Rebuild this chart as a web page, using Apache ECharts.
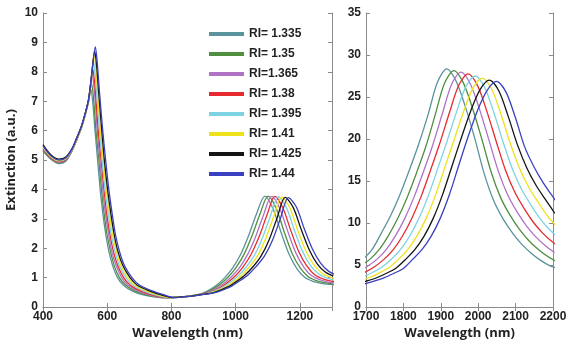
<!DOCTYPE html>
<html>
<head>
<meta charset="utf-8">
<script src="https://cdn.jsdelivr.net/npm/echarts@6/dist/echarts.min.js"></script>
<style>
  html, body { margin: 0; padding: 0; background: #fff; }
  #chart { width: 568px; height: 342px; }
</style>
</head>
<body>
<div id="chart"></div>
<script>
// legend labels and line colours, one per refractive index
const riNames = ["RI= 1.335", "RI= 1.35", "RI=1.365", "RI= 1.38", "RI= 1.395", "RI= 1.41", "RI= 1.425", "RI= 1.44"]
const riColors = ["#5a939c", "#4f8f3f", "#b072c4", "#e52b2f", "#7dd3e3", "#f0e21a", "#141414", "#3b40c0"]

// left panel: [wavelength nm, extinction]
const vis1335 = [[400,5.30],[425,5.02],[450,4.88],[470,4.95],[490,5.30],[505,5.68],[520,6.10],[532,6.55],[542,7.00],[549,7.40],[555,6.95],[562,6.00],[570,5.00],[578,4.00],[586,3.20],[595,2.50],[605,1.90],[617,1.40],[632,1.00],[650,0.75],[677,0.55],[715,0.40],[765,0.32],[791,0.31],[816,0.33],[841,0.35],[866,0.39],[891,0.45],[916,0.57],[941,0.75],[966,1.00],[991,1.33],[1016,1.80],[1041,2.45],[1066,3.20],[1091,3.77],[1116,3.35],[1141,2.55],[1166,1.80],[1191,1.30],[1216,1.00],[1241,0.87],[1266,0.80],[1291,0.77],[1316,0.76]]
const vis1350 = [[400,5.33],[425,5.04],[450,4.90],[470,4.97],[490,5.31],[505,5.69],[520,6.11],[532,6.56],[542,7.00],[551,7.60],[557,7.15],[565,6.00],[574,5.00],[582,4.00],[590,3.20],[599,2.50],[610,1.90],[622,1.40],[638,1.00],[657,0.75],[686,0.55],[724,0.40],[771,0.32],[801,0.32],[826,0.34],[851,0.36],[876,0.41],[901,0.47],[926,0.59],[951,0.77],[976,1.01],[1001,1.34],[1026,1.79],[1051,2.42],[1076,3.17],[1101,3.77],[1126,3.36],[1151,2.56],[1176,1.82],[1201,1.33],[1226,1.03],[1251,0.90],[1276,0.83],[1301,0.79]]
const vis1365 = [[400,5.36],[425,5.06],[450,4.92],[470,4.99],[490,5.32],[505,5.70],[520,6.12],[532,6.57],[542,7.02],[548,7.50],[553,7.95],[559,7.45],[564,6.80],[569,6.00],[577,5.00],[586,4.00],[594,3.20],[604,2.50],[614,1.90],[628,1.40],[645,1.00],[664,0.75],[695,0.55],[734,0.40],[778,0.32],[812,0.33],[837,0.35],[862,0.38],[887,0.42],[912,0.49],[937,0.61],[962,0.79],[987,1.03],[1012,1.34],[1037,1.78],[1062,2.39],[1087,3.14],[1112,3.76],[1137,3.36],[1162,2.58],[1187,1.85],[1212,1.36],[1237,1.06],[1262,0.93],[1287,0.85],[1312,0.81]]
const vis1380 = [[400,5.39],[425,5.08],[450,4.94],[470,5.01],[490,5.33],[505,5.71],[520,6.13],[532,6.58],[542,7.03],[549,7.60],[555,8.10],[561,7.60],[566,6.90],[572,6.00],[581,5.00],[590,4.00],[598,3.20],[608,2.50],[619,1.90],[633,1.40],[651,1.00],[671,0.75],[704,0.55],[743,0.40],[784,0.32],[822,0.34],[847,0.36],[872,0.39],[897,0.44],[922,0.51],[947,0.63],[972,0.81],[997,1.04],[1022,1.35],[1047,1.77],[1072,2.36],[1097,3.11],[1122,3.76],[1147,3.37],[1172,2.59],[1197,1.87],[1222,1.39],[1247,1.09],[1272,0.96],[1297,0.88],[1322,0.84]]
const vis1395 = [[400,5.42],[425,5.10],[450,4.96],[470,5.03],[490,5.34],[505,5.72],[520,6.14],[532,6.59],[542,7.04],[550,7.70],[557,8.35],[563,7.85],[569,7.00],[576,6.00],[584,5.00],[593,4.00],[603,3.20],[612,2.50],[624,1.90],[638,1.40],[658,1.00],[679,0.75],[713,0.55],[752,0.40],[791,0.32],[833,0.34],[858,0.38],[883,0.41],[908,0.45],[933,0.54],[958,0.66],[983,0.84],[1008,1.06],[1033,1.36],[1058,1.75],[1083,2.34],[1108,3.09],[1133,3.75],[1158,3.38],[1183,2.61],[1208,1.90],[1233,1.41],[1258,1.13],[1283,0.99],[1308,0.90]]
const vis1410 = [[400,5.45],[425,5.12],[450,4.98],[470,5.05],[490,5.35],[505,5.73],[520,6.15],[532,6.60],[542,7.05],[550,7.75],[559,8.55],[565,8.05],[571,7.10],[579,6.00],[588,5.00],[597,4.00],[607,3.20],[616,2.50],[629,1.90],[643,1.40],[664,1.00],[686,0.75],[722,0.55],[761,0.40],[797,0.32],[818,0.34],[843,0.35],[868,0.39],[893,0.42],[918,0.47],[943,0.56],[968,0.68],[993,0.86],[1018,1.07],[1043,1.37],[1068,1.74],[1093,2.31],[1118,3.06],[1143,3.74],[1168,3.39],[1193,2.62],[1218,1.92],[1243,1.44],[1268,1.16],[1293,1.02],[1318,0.93]]
const vis1425 = [[400,5.52],[425,5.17],[450,5.03],[470,5.09],[490,5.38],[505,5.75],[520,6.16],[532,6.61],[542,7.06],[551,7.85],[561,8.70],[567,8.20],[574,7.20],[583,6.00],[591,5.00],[601,4.00],[611,3.20],[621,2.50],[633,1.90],[649,1.40],[671,1.00],[693,0.75],[731,0.55],[771,0.40],[804,0.32],[829,0.34],[854,0.36],[879,0.40],[904,0.44],[929,0.48],[954,0.58],[979,0.70],[1004,0.88],[1029,1.09],[1054,1.37],[1079,1.73],[1104,2.28],[1129,3.03],[1154,3.73],[1179,3.39],[1204,2.64],[1229,1.95],[1254,1.47],[1279,1.19],[1304,1.05]]
const vis1440 = [[400,5.48],[425,5.14],[450,5.00],[470,5.07],[490,5.37],[505,5.75],[520,6.17],[532,6.62],[542,7.08],[552,7.95],[563,8.85],[569,8.30],[576,7.30],[586,6.00],[595,5.00],[605,4.00],[615,3.20],[625,2.50],[638,1.90],[654,1.40],[677,1.00],[700,0.75],[740,0.55],[780,0.40],[810,0.32],[839,0.35],[864,0.37],[889,0.41],[914,0.45],[939,0.50],[964,0.60],[989,0.72],[1014,0.90],[1039,1.10],[1064,1.38],[1089,1.72],[1114,2.25],[1139,3.00],[1164,3.72],[1189,3.40],[1214,2.65],[1239,1.97],[1264,1.50],[1289,1.22],[1314,1.08]]

// right panel: [wavelength nm, extinction]
const nir1335 = [[1691,5.67],[1716,6.83],[1741,8.80],[1766,10.90],[1791,13.40],[1816,16.30],[1841,19.40],[1866,22.90],[1891,26.76],[1916,28.35],[1941,26.88],[1966,23.79],[1991,20.04],[2016,15.88],[2041,12.70],[2066,10.52],[2091,8.85],[2116,7.48],[2141,6.44],[2166,5.58],[2191,4.93],[2216,4.54]]
const nir1350 = [[1685,4.91],[1710,5.67],[1735,6.83],[1760,8.50],[1785,10.56],[1810,13.05],[1835,15.96],[1860,19.10],[1885,22.87],[1910,26.64],[1935,28.15],[1960,26.71],[1985,23.63],[2010,19.94],[2035,16.01],[2060,13.02],[2085,10.93],[2110,9.26],[2135,7.92],[2160,6.88],[2185,6.04],[2210,5.40]]
const nir1365 = [[1679,4.18],[1704,4.85],[1729,5.67],[1754,6.83],[1779,8.49],[1804,10.58],[1829,13.14],[1854,16.16],[1879,19.35],[1904,23.00],[1929,26.52],[1954,27.95],[1979,26.54],[2004,23.47],[2029,19.83],[2054,16.15],[2079,13.34],[2104,11.32],[2129,9.66],[2154,8.35],[2179,7.33],[2204,6.49]]
const nir1380 = [[1673,3.61],[1698,4.15],[1723,4.80],[1748,5.67],[1773,6.83],[1798,8.48],[1823,10.60],[1848,13.23],[1873,16.35],[1898,19.58],[1923,23.12],[1948,26.40],[1973,27.75],[1998,26.38],[2023,23.32],[2048,19.73],[2073,16.28],[2098,13.65],[2123,11.71],[2148,10.06],[2173,8.77],[2198,7.76],[2223,6.93]]
const nir1395 = [[1692,3.58],[1717,4.11],[1742,4.74],[1767,5.66],[1792,6.82],[1817,8.45],[1842,10.59],[1867,13.29],[1892,16.50],[1917,19.78],[1942,23.20],[1967,26.23],[1992,27.50],[2017,26.16],[2042,23.12],[2067,19.58],[2092,16.37],[2117,13.92],[2142,12.07],[2167,10.43],[2192,9.16],[2217,8.18]]
const nir1410 = [[1686,3.16],[1711,3.54],[1736,4.07],[1761,4.67],[1786,5.64],[1811,6.80],[1836,8.43],[1861,10.58],[1886,13.35],[1911,16.65],[1936,19.97],[1961,23.28],[1986,26.06],[2011,27.25],[2036,25.95],[2061,22.92],[2086,19.44],[2111,16.47],[2136,14.19],[2161,12.43],[2186,10.80],[2211,9.55]]
const nir1425 = [[1680,2.81],[1705,3.13],[1730,3.51],[1755,4.02],[1780,4.61],[1805,5.63],[1830,6.79],[1855,8.40],[1880,10.58],[1905,13.41],[1930,16.79],[1955,20.15],[1980,23.34],[2005,25.88],[2030,27.00],[2055,25.74],[2080,22.72],[2105,19.30],[2130,16.55],[2155,14.46],[2180,12.77],[2205,11.15]]
const nir1440 = [[1674,2.55],[1699,2.79],[1724,3.11],[1749,3.49],[1774,4.00],[1799,4.56],[1824,5.64],[1849,6.79],[1874,8.40],[1899,10.61],[1924,13.51],[1949,17.00],[1974,20.41],[1999,23.49],[2024,25.80],[2049,26.85],[2074,25.61],[2099,22.61],[2124,19.09],[2149,16.70],[2174,14.77],[2199,13.16],[2224,11.60]]

const visData = [vis1335, vis1350, vis1365, vis1380, vis1395, vis1410, vis1425, vis1440]
const nirData = [nir1335, nir1350, nir1365, nir1380, nir1395, nir1410, nir1425, nir1440]

const chart = echarts.init(document.getElementById("chart"))

const frame = { lineStyle: { color: "#8a8a8a", width: 1 } }
const ticks = { show: true, inside: true, length: 4, lineStyle: { color: "#8a8a8a" } }
const labelFont = { fontFamily: "Liberation Sans, Arial, sans-serif", fontWeight: "bold", fontSize: 12, color: "#222" }
const nameFont = { fontFamily: "Open Sans, sans-serif", fontWeight: "bold", fontSize: 13, color: "#222" }
const plain = (v) => String(v)

// a box axis: the labelled one plus a bare twin on the opposite side
function xPair(grid, min, max, interval, hideMax) {
  return [
    {
      type: "value", gridIndex: grid, position: "bottom", min, max, interval,
      axisLine: frame, axisTick: ticks, splitLine: { show: false },
      axisLabel: { ...labelFont, margin: 4, showMaxLabel: !hideMax, formatter: plain },
      name: "Wavelength (nm)", nameLocation: "middle", nameGap: 20, nameMoveOverlap: false, nameTextStyle: nameFont,
    },
    {
      type: "value", gridIndex: grid, position: "top", min, max, interval,
      axisLine: frame, axisTick: ticks, splitLine: { show: false }, axisLabel: { show: false },
    },
  ]
}

function yPair(grid, max, interval, name) {
  return [
    {
      type: "value", gridIndex: grid, position: "left", min: 0, max, interval,
      axisLine: { show: true, ...frame }, axisTick: ticks, splitLine: { show: false },
      axisLabel: { ...labelFont, margin: 5, formatter: plain },
      name, nameLocation: "middle", nameGap: 25, nameMoveOverlap: false, nameTextStyle: nameFont,
    },
    {
      type: "value", gridIndex: grid, position: "right", min: 0, max, interval,
      axisLine: { show: true, ...frame }, axisTick: ticks, splitLine: { show: false }, axisLabel: { show: false },
    },
  ]
}

const series = []
riNames.forEach((name, i) => {
  const common = {
    name, type: "line", showSymbol: false, smooth: 0.3,
    lineStyle: { color: riColors[i], width: 1.3 },
    itemStyle: { color: riColors[i] },
  }
  series.push({ ...common, xAxisIndex: 0, yAxisIndex: 0, data: visData[i] })
  series.push({ ...common, xAxisIndex: 2, yAxisIndex: 2, data: nirData[i] })
})

chart.setOption({
  animation: false,
  backgroundColor: "#fff",
  grid: [
    { left: 43, right: 236, top: 13, bottom: 35, containLabel: false, outerBoundsMode: "none" },
    { left: 366, right: 15, top: 13, bottom: 35, containLabel: false, outerBoundsMode: "none" },
  ],
  xAxis: [...xPair(0, 400, 1300, 200, true), ...xPair(1, 1700, 2200, 100, false)],
  yAxis: [...yPair(0, 10, 1, "Extinction (a.u.)"), ...yPair(1, 35, 5, "")],
  legend: {
    data: riNames,
    orient: "vertical",
    left: 209,
    top: 27,
    padding: 0,
    icon: "rect",
    itemWidth: 35,
    itemHeight: 4,
    itemGap: 6,
    textStyle: { ...labelFont, lineHeight: 14 },
  },
  series,
})
</script>
</body>
</html>
